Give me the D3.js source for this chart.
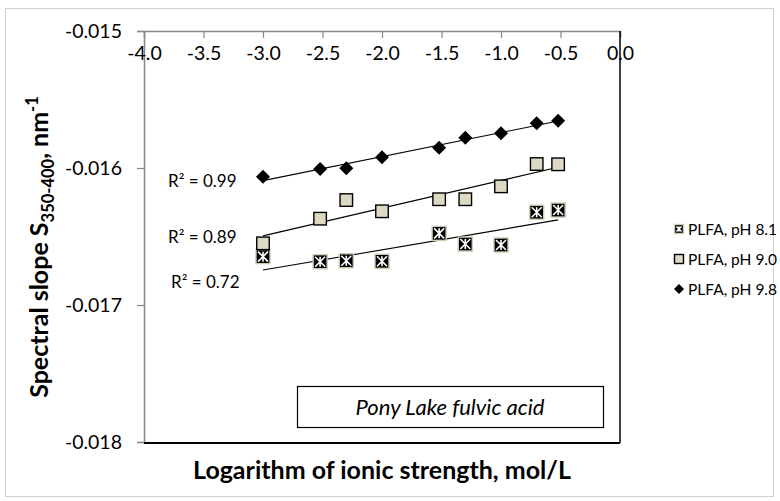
<!DOCTYPE html>
<html>
<head>
<meta charset="utf-8">
<script src="https://cdn.jsdelivr.net/npm/d3@7"></script>
<style>
  body { margin: 0; background: #fff; }
  text { font-family: Lato, Carlito, "Liberation Sans", sans-serif; fill: #000; }
</style>
</head>
<body>
<div id="chart"></div>
<script>
// data
const logI = [-3.0, -2.52, -2.30, -2.0, -1.52, -1.30, -1.0, -0.70, -0.52];
const slope81 = [-0.016647, -0.016684, -0.016677, -0.016681, -0.016477, -0.016555, -0.016562, -0.016323, -0.016307];
const slope90 = [-0.016550, -0.016370, -0.016234, -0.016316, -0.016228, -0.016228, -0.016134, -0.015971, -0.015973];
const slope98 = [-0.016064, -0.016007, -0.016002, -0.015922, -0.015852, -0.015779, -0.015747, -0.015674, -0.015655];
const seriesNames = ["PLFA, pH 8.1", "PLFA, pH 9.0", "PLFA, pH 9.8"];
const r2Labels = ["R² = 0.72", "R² = 0.89", "R² = 0.99"];
const xTicks = [-4.0, -3.5, -3.0, -2.5, -2.0, -1.5, -1.0, -0.5, 0.0];
const yTicks = [-0.015, -0.016, -0.017, -0.018];

const W = 780, H = 501;
const plot = {left: 144, top: 31, right: 620, bottom: 442};

const svg = d3.select("#chart")
    .append("svg")
    .attr("width", W)
    .attr("height", H);

// outer chart border
svg.append("rect")
    .attr("x", 5.5).attr("y", 8.5)
    .attr("width", 768).attr("height", 488)
    .attr("fill", "#fff")
    .attr("stroke", "#d0d0d0");

const x = d3.scaleLinear().domain([-4, 0]).range([plot.left, plot.right]);
const y = d3.scaleLinear().domain([-0.018, -0.015]).range([plot.bottom, plot.top]);

// y axis (left, gray)
const yAxis = svg.append("g")
    .attr("transform", "translate(" + plot.left + ",0)")
    .call(d3.axisLeft(y).tickValues(yTicks).tickSize(7).tickPadding(15)
        .tickFormat(d => d.toFixed(3)));
yAxis.selectAll("text").style("font-size", "19.5px").attr("fill", "#000");

// x axis at the top, labels below the line
const xAxis = svg.append("g")
    .attr("transform", "translate(0," + plot.top + ")")
    .call(d3.axisBottom(x).tickValues(xTicks).tickSize(7)
        .tickFormat(d => Math.abs(d).toFixed(1) === "0.0" ? "0.0" : d.toFixed(1)));
xAxis.selectAll("text").style("font-size", "19.5px").attr("y", 29).attr("dy", 0).attr("fill", "#000");

[yAxis, xAxis].forEach(a => {
    a.select(".domain").attr("stroke", "#888").attr("stroke-width", 1.5);
    a.selectAll(".tick line").attr("stroke", "#888").attr("stroke-width", 1.2);
});

// right and bottom frame lines
svg.append("line")
    .attr("x1", x(0)).attr("x2", x(0))
    .attr("y1", plot.top).attr("y2", plot.bottom + 1)
    .attr("stroke", "#000").attr("stroke-width", 1.5);
svg.append("line")
    .attr("x1", plot.left).attr("x2", x(0))
    .attr("y1", plot.bottom + 1).attr("y2", plot.bottom + 1)
    .attr("stroke", "#000").attr("stroke-width", 2);

// least squares trendline
function fit(xs, ys) {
    const mx = d3.mean(xs), my = d3.mean(ys);
    let sxy = 0, sxx = 0;
    xs.forEach((v, i) => { sxy += (v - mx) * (ys[i] - my); sxx += (v - mx) * (v - mx); });
    const b = sxy / sxx;
    return v => my + b * (v - mx);
}

const series = [
    {name: seriesNames[0], values: slope81, marker: "star"},
    {name: seriesNames[1], values: slope90, marker: "square"},
    {name: seriesNames[2], values: slope98, marker: "diamond"}
];

// markers
function drawMarker(g, type, s) {
    const h = s / 2;
    if (type === "diamond") {
        g.append("path")
            .attr("d", "M0," + (-h) + "L" + h + ",0L0," + h + "L" + (-h) + ",0Z")
            .attr("fill", "#000");
    } else if (type === "square") {
        g.append("rect")
            .attr("x", -h).attr("y", -h).attr("width", s).attr("height", s)
            .attr("fill", "#ddd9c3").attr("stroke", "#000").attr("stroke-width", 1.4);
    } else {
        g.append("rect")
            .attr("x", -h).attr("y", -h).attr("width", s).attr("height", s)
            .attr("fill", "#000").attr("stroke", "#cfcab2").attr("stroke-width", 1.4);
        const i = h - 2;
        g.append("path")
            .attr("d", "M" + (-i) + "," + (-i) + "L" + i + "," + i +
                "M" + i + "," + (-i) + "L" + (-i) + "," + i +
                "M0," + (-i) + "L0," + i)
            .attr("stroke", "#fff").attr("stroke-width", 1.6);
    }
}

series.forEach(s => {
    const f = fit(logI, s.values);
    const x0 = d3.min(logI), x1 = d3.max(logI);
    svg.append("line")
        .attr("x1", x(x0)).attr("y1", y(f(x0)))
        .attr("x2", x(x1)).attr("y2", y(f(x1)))
        .attr("stroke", "#000").attr("stroke-width", 1.1);
});

series.forEach(s => {
    svg.append("g").selectAll("g")
        .data(s.values)
        .enter().append("g")
        .attr("transform", (d, i) => "translate(" + x(logI[i]) + "," + y(d) + ")")
        .each(function() { drawMarker(d3.select(this), s.marker, s.marker === "square" ? 12.5 : 14); });
});

// R² labels
const r2Pos = [[171, 288], [168, 243], [168, 187]];
r2Labels.forEach((t, i) => {
    svg.append("text")
        .attr("x", r2Pos[i][0]).attr("y", r2Pos[i][1])
        .style("font-size", "17px")
        .text(t);
});

// annotation box
svg.append("rect")
    .attr("x", 297.5).attr("y", 386.5)
    .attr("width", 306).attr("height", 41)
    .attr("fill", "#fff").attr("stroke", "#000").attr("stroke-width", 1.2);
svg.append("text")
    .attr("x", 450).attr("y", 415)
    .attr("text-anchor", "middle")
    .style("font-size", "22px").style("font-style", "italic")
    .text("Pony Lake fulvic acid");

// axis titles
svg.append("text")
    .attr("x", (plot.left + plot.right) / 2).attr("y", 479)
    .attr("text-anchor", "middle")
    .style("font-size", "25px").style("font-weight", "bold")
    .text("Logarithm of ionic strength, mol/L");

const yt = svg.append("text")
    .attr("transform", "translate(48,247) rotate(-90)")
    .attr("text-anchor", "middle")
    .style("font-size", "25px").style("font-weight", "bold");
yt.append("tspan").text("Spectral slope S");
yt.append("tspan").attr("dy", 6).style("font-size", "16.5px").text("350-400");
yt.append("tspan").attr("dy", -6).text(", nm");
yt.append("tspan").attr("dy", -10).style("font-size", "16.5px").text("-1");

// legend
const legend = svg.append("g");
series.forEach((s, i) => {
    const row = legend.append("g").attr("transform", "translate(679," + (229 + i * 30) + ")");
    drawMarker(row.append("g"), s.marker, s.marker === "diamond" ? 10 : 9);
    row.append("text")
        .attr("x", 9).attr("y", 5.5)
        .style("font-size", "15.5px")
        .text(s.name);
});
</script>
</body>
</html>
